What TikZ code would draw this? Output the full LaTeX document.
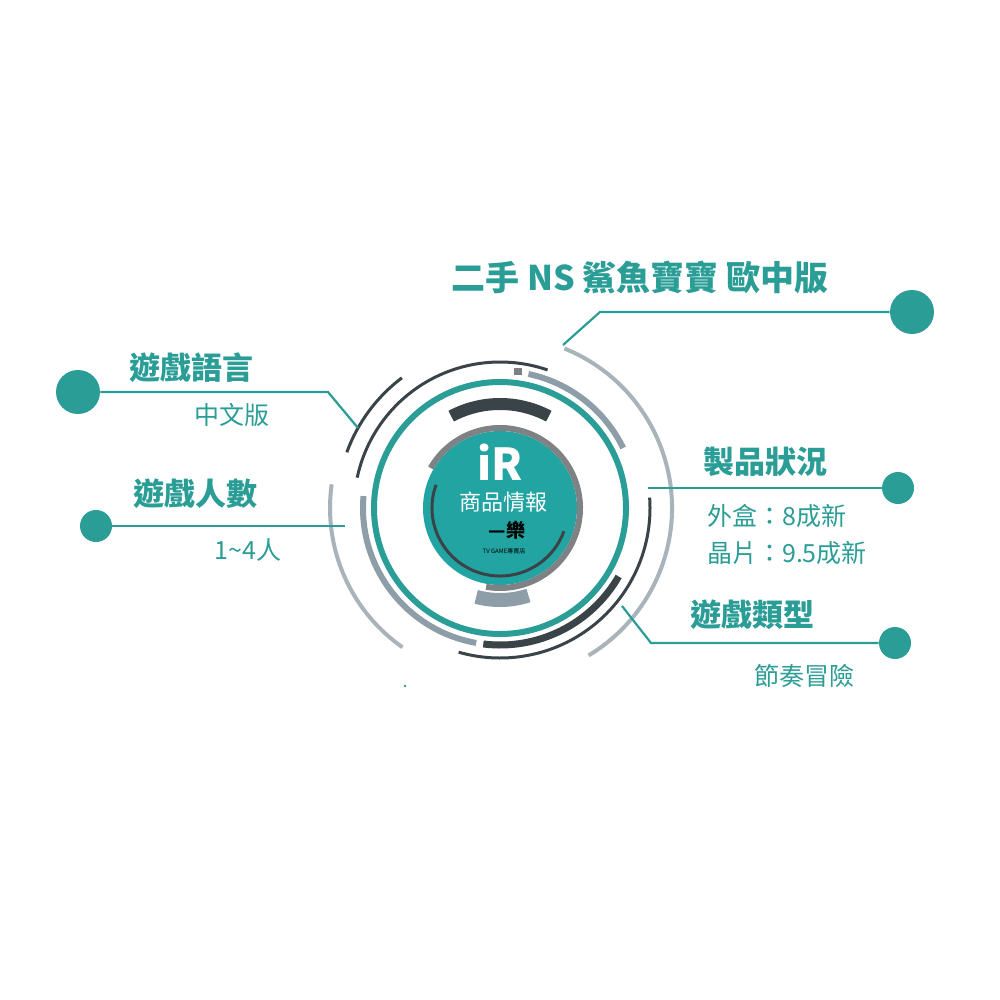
\documentclass[tikz,border=0pt]{standalone}
\usepackage{fontspec}
\setmainfont{Noto Sans CJK TC}
\usetikzlibrary{positioning}
\definecolor{teal1}{HTML}{2A9D96}
\definecolor{teal2}{HTML}{22A4A2}
\definecolor{dark1}{HTML}{3A4448}
\definecolor{blue1}{HTML}{8E9EA8}
\definecolor{gray1}{HTML}{A9B4BA}
\definecolor{gray2}{HTML}{7E8285}
\tikzset{every picture/.style={line width=0.75pt}}
\tikzset{
  title/.style={text=teal1,font=\bfseries\fontsize{31}{33}\selectfont},
  sub/.style={text=teal1,font=\fontsize{25}{27}\selectfont},
  lead/.style={draw=teal1,line width=2.2pt},
  dot/.style={circle,fill=teal1,inner sep=0pt},
}
\newcommand{\ringarc}[4]{\draw[#1] (500,508) ++(#3:#2) arc[start angle=#3,end angle=#4,radius=#2];}
\begin{document}
\begin{tikzpicture}[x=1pt,y=1pt,yscale=-1,xscale=1]
\useasboundingbox (0,0) rectangle (1000,1000);

% centre
\fill[teal2] (500,508) circle[radius=77];
\ringarc{gray2,line width=6pt}{80}{-150}{100}
\ringarc{dark1,line width=3pt}{68}{-160}{-340}
\ringarc{teal1,line width=6pt}{126}{0}{360}
\ringarc{dark1,line width=12pt}{104}{-62}{-118}
\ringarc{blue1,line width=14pt}{92}{-255}{-288}
\node[text=white,font=\bfseries\fontsize{44}{44}\selectfont] (logo) at (500,462) {iR};
\node[text=white,font=\fontsize{22}{24}\selectfont] (info) at (503,502) {商品情報};
\node[text=black,font=\bfseries\fontsize{19}{20}\selectfont] (shop) at (507,530) {—樂};
\node[text=black,font=\fontsize{6}{7}\selectfont] (tv) at (504,551) {TV GAME專賣店};

% outer rings
\ringarc{dark1,line width=3pt}{146}{-71}{-168}
\ringarc{dark1,line width=3pt}{163}{-127}{-160}
\fill[gray2] (514,368) rectangle (522,375);
\ringarc{blue1,line width=6pt}{137}{-78}{-26}
\ringarc{gray1,line width=4pt}{172}{-68}{59}
\ringarc{dark1,line width=3pt}{150}{-4}{106}
\ringarc{dark1,line width=7pt}{137}{30}{97}
\ringarc{blue1,line width=6pt}{137}{-175}{-260}
\ringarc{gray1,line width=4pt}{170}{-172}{-235}
\fill[teal1] (405,686) circle[radius=1.3];

% leads
\node[dot,minimum size=44pt] (d1) at (912,312) {};
\coordinate (c1) at (563,345);
\coordinate (k1) at (600,312);
\draw[lead] (c1) -- (k1) -- (d1);
\node[title,font=\bfseries\fontsize{34}{36}\selectfont] (t1) at (640,278) {二手 NS 鯊魚寶寶 歐中版};

\node[dot,minimum size=44pt] (d2) at (78,392) {};
\coordinate (k2) at (328,392);
\coordinate (c2) at (358,428);
\draw[lead] (d2) -- (k2) -- (c2);
\node[title] (t2) at (191,368) {遊戲語言};
\node[sub] (s2) at (232,415) {中文版};

\node[dot,minimum size=32pt] (d3) at (96,526) {};
\coordinate (c3) at (345,526);
\draw[lead] (d3) -- (c3);
\node[title] (t3) at (195,494) {遊戲人數};
\node[sub] (s3) at (248,550) {1\textasciitilde4人};

\node[dot,minimum size=32pt] (d4) at (898,488) {};
\coordinate (c4) at (648,488);
\draw[lead] (c4) -- (d4);
\node[title] (t4) at (765,462) {製品狀況};
\node[sub] (s4) at (777,516) {外盒：8成新};
\node[sub] (s5) at (787,553) {晶片：9.5成新};

\node[dot,minimum size=32pt] (d5) at (895,643) {};
\coordinate (c5) at (622,606);
\coordinate (k5) at (651,643);
\draw[lead] (c5) -- (k5) -- (d5);
\node[title] (t5) at (752,615) {遊戲類型};
\node[sub] (s6) at (804,676) {節奏冒險};
\end{tikzpicture}
\end{document}
